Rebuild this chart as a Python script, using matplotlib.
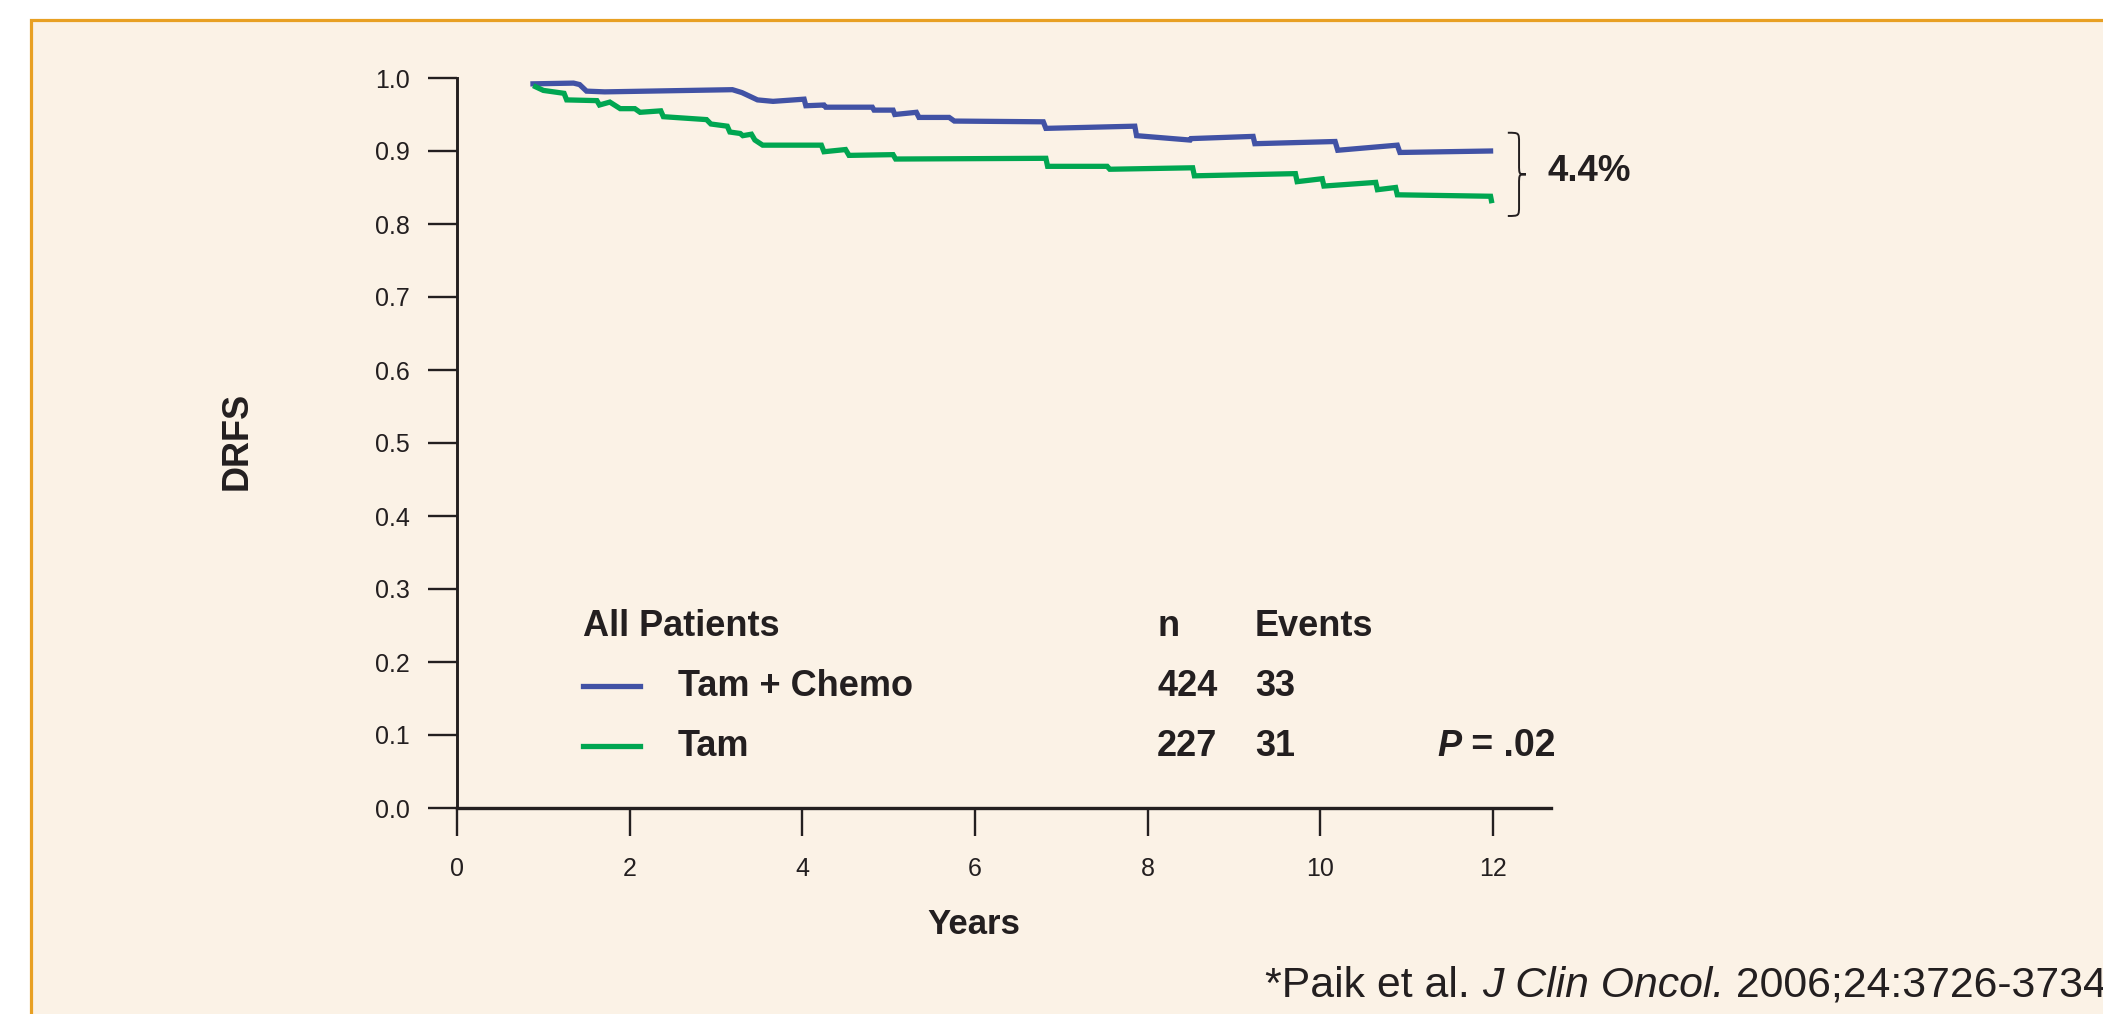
import numpy as np
import matplotlib.pyplot as plt
from matplotlib.patches import Rectangle, PathPatch
from matplotlib.path import Path
from matplotlib.lines import Line2D

plt.rcParams['font.family'] = ['Liberation Sans', 'DejaVu Sans']

# curves: (years, DRFS)
chemo_years = [0.88, 1.35, 1.42, 1.50, 1.71, 3.19, 3.30, 3.48, 3.66, 4.02, 4.04, 4.25, 4.27, 4.81, 4.83,
               5.05, 5.07, 5.32, 5.35, 5.70, 5.76, 6.79, 6.82, 7.85, 7.87, 8.49, 8.50, 9.22,
               9.24, 10.17, 10.20, 10.89, 10.92, 11.97]
chemo_drfs = [0.992, 0.993, 0.991, 0.982, 0.981, 0.984, 0.980, 0.970, 0.968, 0.971, 0.962, 0.963, 0.960, 0.960, 0.956,
              0.956, 0.950, 0.953, 0.946, 0.946, 0.941, 0.940, 0.931, 0.934, 0.921, 0.915, 0.917, 0.920,
              0.910, 0.913, 0.901, 0.908, 0.898, 0.900]

tam_years = [0.91, 1.00, 1.24, 1.27, 1.62, 1.65, 1.77, 1.89, 2.06, 2.12, 2.36, 2.39, 2.89, 2.94,
             3.13, 3.16, 3.28, 3.31, 3.41, 3.45, 3.54, 4.22, 4.25, 4.50, 4.54, 5.05, 5.08, 6.82,
             6.84, 7.53, 7.56, 8.52, 8.54, 9.71, 9.73, 10.02, 10.04, 10.64, 10.66, 10.87, 10.89,
             11.97, 11.98]
tam_drfs = [0.988, 0.983, 0.979, 0.970, 0.969, 0.963, 0.967, 0.958, 0.958, 0.953, 0.955, 0.947, 0.943, 0.937,
            0.934, 0.926, 0.924, 0.921, 0.923, 0.915, 0.908, 0.908, 0.899, 0.902, 0.894, 0.895, 0.889, 0.890,
            0.879, 0.879, 0.875, 0.877, 0.866, 0.869, 0.858, 0.862, 0.852, 0.857, 0.847, 0.850, 0.840,
            0.838, 0.832]

groups = ['Tam + Chemo', 'Tam']
n_patients = ['424', '227']
n_events = ['33', '31']
p_value = '.02'
difference = '4.4%'

x_ticks = [0, 2, 4, 6, 8, 10, 12]
y_ticks = [0.0, 0.1, 0.2, 0.3, 0.4, 0.5, 0.6, 0.7, 0.8, 0.9, 1.0]

blue = '#4152A5'
green = '#00A651'
ink = '#231F20'
cream = '#FBF2E6'
orange = '#E8A023'

W, H = 2103, 1014
def fx(x):
    return x / W
def fy(y):
    return 1 - y / H

fig = plt.figure(figsize=(W / 100, H / 100), dpi=100)
fig.patch.set_facecolor('white')
fig.add_artist(Rectangle((fx(31), -0.05), 1.1, fy(19.5) + 0.05, transform=fig.transFigure,
                         facecolor=cream, edgecolor=orange, lw=2.3, zorder=0))

ax = fig.add_axes([fx(457), 206 / H, 1094 / W, 730 / H])
ax.set_facecolor('none')
ax.plot(chemo_years, chemo_drfs, color=blue, lw=3.8, solid_joinstyle='miter')
ax.plot(tam_years, tam_drfs, color=green, lw=3.8, solid_joinstyle='miter')

ax.set_xlim(0, 12.67)
ax.set_ylim(0, 1.0)
ax.set_xticks(x_ticks)
ax.set_yticks(y_ticks)
ax.set_yticklabels([f'{v:.1f}' for v in y_ticks])
for s in ['top', 'right']:
    ax.spines[s].set_visible(False)
ax.spines['left'].set_linewidth(2.1)
ax.spines['bottom'].set_linewidth(2.4)
ax.spines['left'].set_color(ink)
ax.spines['bottom'].set_color(ink)
ax.tick_params(axis='y', length=21, width=1.7, color=ink, labelsize=18, labelcolor=ink, pad=13)
ax.tick_params(axis='x', length=20, width=1.7, color=ink, labelsize=18, labelcolor=ink, pad=15)

# bracket and difference label
xl, xs, xt = 12.17, 12.30, 12.38
yt, yb, ym, r = 0.925, 0.811, 0.868, 0.014
verts = [(xl, yt), (xs, yt), (xs, yt), (xs, yt - r), (xs, ym + r),
         (xs, ym), (xs, ym), (xt, ym),
         (xs, ym), (xs, ym), (xs, ym - r), (xs, yb + r),
         (xs, yb), (xs, yb), (xl, yb)]
codes = [Path.MOVETO, Path.CURVE4, Path.CURVE4, Path.CURVE4, Path.LINETO,
         Path.CURVE4, Path.CURVE4, Path.CURVE4,
         Path.CURVE4, Path.CURVE4, Path.CURVE4, Path.LINETO,
         Path.CURVE4, Path.CURVE4, Path.CURVE4]
ax.add_patch(PathPatch(Path(verts, codes), facecolor='none', edgecolor=ink, lw=1.4, clip_on=False))
ax.text(12.63, 0.872, difference, fontsize=26.5, fontweight='bold', color=ink,
        va='center', ha='left', clip_on=False)

# axis titles
fig.text(fx(237), fy(441), 'DRFS', rotation=90, fontsize=26, fontweight='bold', color=ink,
         ha='center', va='center')
fig.text(fx(974), fy(925), 'Years', fontsize=25, fontweight='bold', color=ink,
         ha='center', va='center')

# legend table
fs = 26
row_y = [686, 746]
fig.text(fx(583), fy(626), 'All Patients', fontsize=fs, fontweight='bold', color=ink, va='center')
fig.text(fx(1158), fy(626), 'n', fontsize=fs, fontweight='bold', color=ink, va='center')
fig.text(fx(1255), fy(626), 'Events', fontsize=fs, fontweight='bold', color=ink, va='center')
for i, color in enumerate([blue, green]):
    fig.add_artist(Line2D([fx(583), fx(640)], [fy(row_y[i]), fy(row_y[i])], color=color, lw=3.8))
    fig.text(fx(678), fy(row_y[i]), groups[i], fontsize=fs, fontweight='bold', color=ink, va='center')
    fig.text(fx(1157), fy(row_y[i]), n_patients[i], fontsize=fs, fontweight='bold', color=ink, va='center')
    fig.text(fx(1255), fy(row_y[i]), n_events[i], fontsize=fs, fontweight='bold', color=ink, va='center')

p_txt = fig.text(fx(1437), fy(row_y[1]), 'P', fontsize=fs, fontweight='bold', style='italic',
                 color=ink, va='center')
fig.add_artist(plt.Annotation(' = ' + p_value, xy=(1, 0), xycoords=p_txt, fontsize=27,
                              fontweight='bold', color=ink, va='bottom', ha='left'))

# citation
cs = 30.8
c1 = fig.text(fx(1265), fy(997), '*Paik et al. ', fontsize=cs, color=ink, va='baseline')
c2 = fig.add_artist(plt.Annotation('J Clin Oncol.', xy=(1, 0), xycoords=c1, fontsize=cs,
                                   style='italic', color=ink, va='bottom', ha='left'))
fig.add_artist(plt.Annotation(' 2006;24:3726-3734', xy=(1, 0), xycoords=c2, fontsize=cs,
                              color=ink, va='bottom', ha='left'))

fig.savefig('out.png', dpi=100, facecolor='white')
